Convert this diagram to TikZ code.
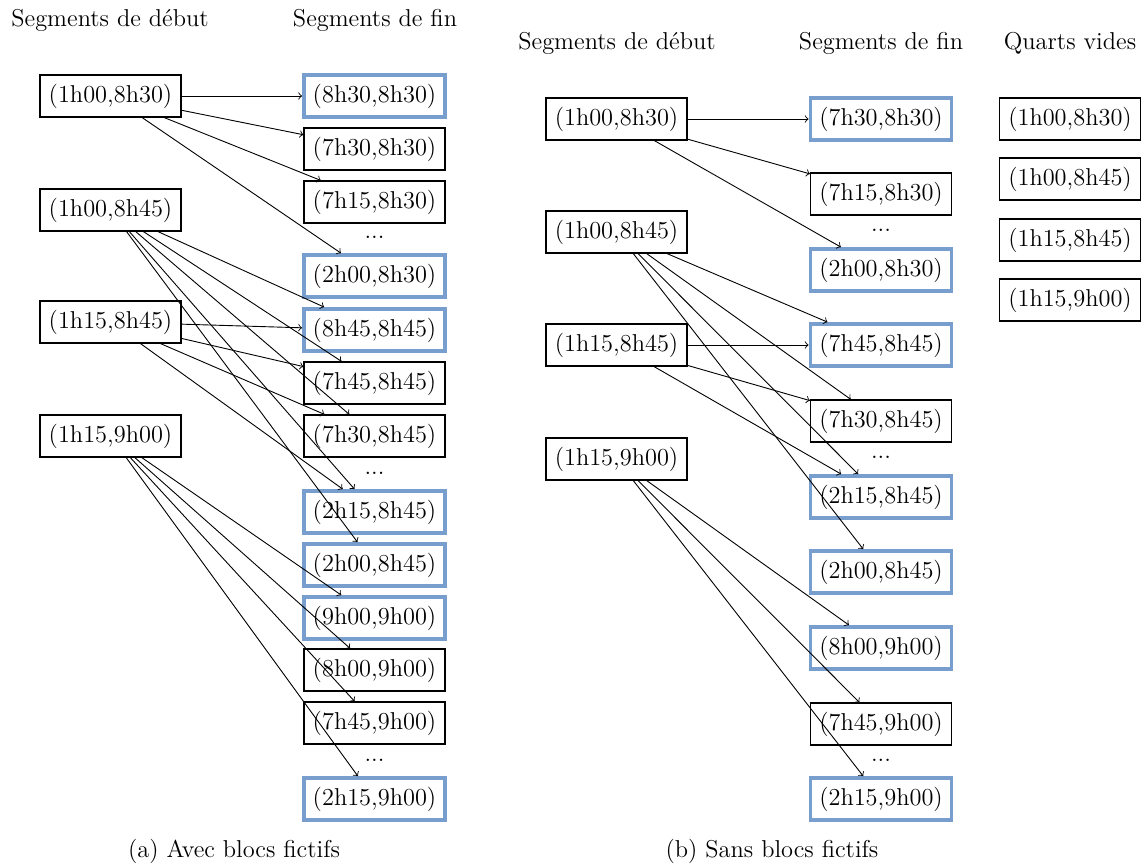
\documentclass[tikz,border=0pt]{standalone}
\definecolor{blocblue}{RGB}{119,158,204}
\newcommand\segfont{\fontsize{12.2}{14}\selectfont}
\tikzset{
  seg/.style={draw, line width=0.6pt, minimum width=70.5pt, minimum height=21pt, inner sep=1pt, font=\segfont},
  fict/.style={seg, draw=blocblue, line width=1.9pt},
  head/.style={anchor=base, font=\segfont},
  gap/.style={inner sep=0pt, font=\segfont},
  link/.style={->, line width=0.45pt},
}
\begin{document}
\begin{tikzpicture}[x=0.5pt, y=-0.5pt]
\useasboundingbox (0,0) rectangle (1145,866);

% ---------- (a) avec blocs fictifs ----------
\node[head] (ha1) at (110,27) {Segments de début};
\node[head] (ha2) at (375,27) {Segments de fin};

\node[seg] (a1) at (110.5,96)  {(1h00,8h30)};
\node[seg] (a2) at (110.5,210) {(1h00,8h45)};
\node[seg] (a3) at (110.5,322) {(1h15,8h45)};
\node[seg] (a4) at (110.5,436) {(1h15,9h00)};

\node[fict] (ae1)  at (374.5,96)  {(8h30,8h30)};
\node[seg]  (ae2)  at (374.5,149) {(7h30,8h30)};
\node[seg]  (ae3)  at (374.5,202) {(7h15,8h30)};
\node[gap]  (ad1)  at (374.5,237) {...};
\node[fict] (ae4)  at (374.5,276) {(2h00,8h30)};
\node[fict] (ae5)  at (374.5,330) {(8h45,8h45)};
\node[seg]  (ae6)  at (374.5,383) {(7h45,8h45)};
\node[seg]  (ae7)  at (374.5,436) {(7h30,8h45)};
\node[gap]  (ad2)  at (374.5,473) {...};
\node[fict] (ae8)  at (374.5,512) {(2h15,8h45)};
\node[fict] (ae9)  at (374.5,565) {(2h00,8h45)};
\node[fict] (ae10) at (374.5,618) {(9h00,9h00)};
\node[seg]  (ae11) at (374.5,670) {(8h00,9h00)};
\node[seg]  (ae12) at (374.5,723) {(7h45,9h00)};
\node[gap]  (ad3)  at (374.5,760) {...};
\node[fict] (ae13) at (374.5,799) {(2h15,9h00)};

\foreach \t in {ae1,ae2,ae3,ae4} \draw[link] (a1) -- (\t);
\foreach \t in {ae5,ae6,ae7,ae8,ae9} \draw[link] (a2) -- (\t);
\foreach \t in {ae5,ae6,ae7,ae8} \draw[link] (a3) -- (\t);
\foreach \t in {ae10,ae11,ae12,ae13} \draw[link] (a4) -- (\t);

\node[head] (capa) at (234,857) {(a) Avec blocs fictifs};

% ---------- (b) sans blocs fictifs ----------
\node[head] (hb1) at (617,50)  {Segments de début};
\node[head] (hb2) at (881,50)  {Segments de fin};
\node[head] (hb3) at (1070,50) {Quarts vides};

\node[seg] (b1) at (616.5,119) {(1h00,8h30)};
\node[seg] (b2) at (616.5,232) {(1h00,8h45)};
\node[seg] (b3) at (616.5,345) {(1h15,8h45)};
\node[seg] (b4) at (616.5,459) {(1h15,9h00)};

\node[fict] (be1)  at (881,119) {(7h30,8h30)};
\node[seg]  (be2)  at (881,194) {(7h15,8h30)};
\node[gap]  (bd1)  at (881,230) {...};
\node[fict] (be3)  at (881,270) {(2h00,8h30)};
\node[fict] (be4)  at (881,345) {(7h45,8h45)};
\node[seg]  (be5)  at (881,421) {(7h30,8h45)};
\node[gap]  (bd2)  at (881,457) {...};
\node[fict] (be6)  at (881,497) {(2h15,8h45)};
\node[fict] (be7)  at (881,572) {(2h00,8h45)};
\node[fict] (be8)  at (881,648) {(8h00,9h00)};
\node[seg]  (be9)  at (881,724) {(7h45,9h00)};
\node[gap]  (bd3)  at (881,760) {...};
\node[fict] (be10) at (881,799) {(2h15,9h00)};

\node[seg] (q1) at (1070,119) {(1h00,8h30)};
\node[seg] (q2) at (1070,179) {(1h00,8h45)};
\node[seg] (q3) at (1070,240) {(1h15,8h45)};
\node[seg] (q4) at (1070,300) {(1h15,9h00)};

\foreach \t in {be1,be2,be3} \draw[link] (b1) -- (\t);
\foreach \t in {be4,be5,be6,be7} \draw[link] (b2) -- (\t);
\foreach \t in {be4,be5,be6} \draw[link] (b3) -- (\t);
\foreach \t in {be8,be9,be10} \draw[link] (b4) -- (\t);

\node[head] (capb) at (772,857) {(b) Sans blocs fictifs};
\end{tikzpicture}
\end{document}
